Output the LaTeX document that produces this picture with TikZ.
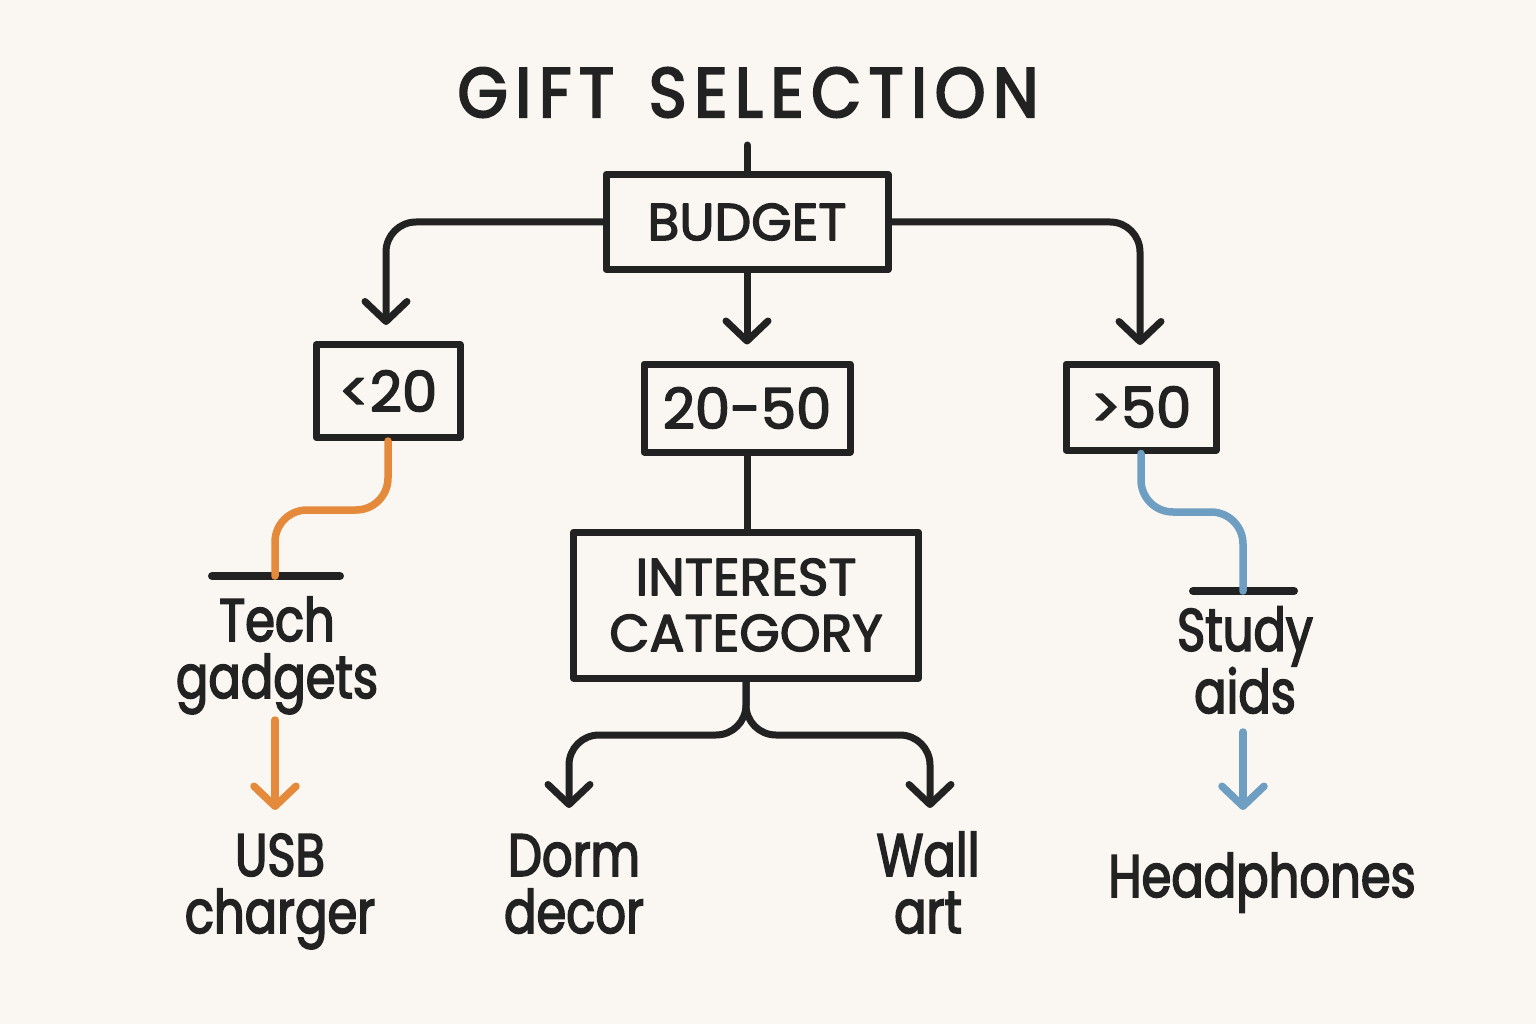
\documentclass[tikz,border=0pt]{standalone}
\usepackage{fontspec}
\setmainfont{Poppins}[FakeBold=2.6]
\newfontfamily\lblfont{Poppins}[FakeStretch=0.8,FakeBold=2.6]
\newfontfamily\ttlfont{Poppins}[FakeStretch=0.92,FakeBold=3.2,LetterSpace=11]
\usetikzlibrary{arrows.meta,calc}
\definecolor{bg}{HTML}{FAF7F2}
\definecolor{ink}{HTML}{222222}
\definecolor{org}{HTML}{E5893B}
\definecolor{blu}{HTML}{6E9FC2}
\begin{document}
\begin{tikzpicture}[x=1pt,y=-1pt,
  box/.style={draw=ink,line width=7pt,line join=round,text=ink,inner sep=0pt,align=center},
  conn/.style={draw=ink,line width=7pt,line cap=round,rounded corners=30pt},
  tip/.style={-{Straight Barb[length=20pt,width=42pt,round]}},
  lbl/.style={text=ink,anchor=base,align=center,inner sep=0pt,font=\lblfont\fontsize{60}{57}\selectfont},
  bar/.style={draw=ink,line width=8pt,line cap=round}]
\fill[bg] (0,0) rectangle (1536,1024);
\useasboundingbox (0,0) rectangle (1536,1024);
% title
\node[text=ink,anchor=base,inner sep=0pt,font=\ttlfont\fontsize{70}{70}\selectfont] (title) at (748,117) {GIFT\hspace{10pt} SELECTION};
% boxes
\node[box,minimum width=282,minimum height=95,font=\fontsize{52}{52}\selectfont] (budget) at (747,222) {BUDGET};
\node[box,minimum width=144,minimum height=93,font=\fontsize{56}{56}\selectfont] (lt) at (388,391) {<20};
\node[box,minimum width=206,minimum height=88,font=\fontsize{56}{56}\selectfont] (mid) at (747,408) {20-50};
\node[box,minimum width=150,minimum height=86,font=\fontsize{56}{56}\selectfont] (gt) at (1141,407) {>50};
\node[box,minimum width=345,minimum height=146,font=\fontsize{52}{56}\selectfont] (interest) at (746,605) {INTEREST\\CATEGORY};
% labels (base anchor = last line's baseline)
\node[lbl] (tech) at (277,698) {Tech\\gadgets};
\node[lbl] (usb) at (280,933) {USB\\charger};
\node[lbl] (dorm) at (574,933) {Dorm\\decor};
\node[lbl] (wall) at (928,933) {Wall\\art};
\node[lbl] (study) at (1245,713) {Study\\aids};
\node[lbl] (head) at (1262,897) {Headphones};
% bars
\coordinate (tbar) at (275,576);
\coordinate (sbar) at (1243,591);
\draw[bar] ([xshift=-63]tbar) -- ([xshift=65]tbar);
\draw[bar] ([xshift=-50]sbar) -- ([xshift=51]sbar);
% title to budget
\coordinate (ttop) at (747,145);
\draw[conn] (ttop) -- (budget.north);
% budget branches
\coordinate (ltip) at (386,325);
\coordinate (rtip) at (1140,345);
\draw[conn,tip] (budget.west) -| (ltip);
\draw[conn,tip] (budget.east) -| (rtip);
\draw[conn,tip,shorten >=16pt] (budget.south) -- (mid.north);
% orange
\draw[conn,draw=org,line width=7.5pt,rounded corners=32pt] (lt.south) -- (lt.south |- 0,510) -- (tbar |- 0,510) -- (tbar);
\coordinate (oa) at (275,720);
\coordinate (ob) at (275,810);
\draw[conn,draw=org,line width=7.5pt,tip] (oa) -- (ob);
% blue
\draw[conn,draw=blu,line width=7.5pt,rounded corners=32pt] (gt.south) -- (gt.south |- 0,512) -- (sbar |- 0,512) -- (sbar);
\coordinate (ba) at (1243,732);
\coordinate (bb) at (1243,810);
\draw[conn,draw=blu,line width=7.5pt,tip] (ba) -- (bb);
% middle
\draw[conn] (mid.south) -- (mid.south |- interest.north);
\coordinate (split) at (746,735);
\coordinate (dtip) at (569,808);
\coordinate (wtip) at (930,808);
\draw[conn,tip] (interest.south) -- (split) -| (dtip);
\draw[conn,tip] (interest.south) -- (split) -| (wtip);
\end{tikzpicture}
\end{document}
